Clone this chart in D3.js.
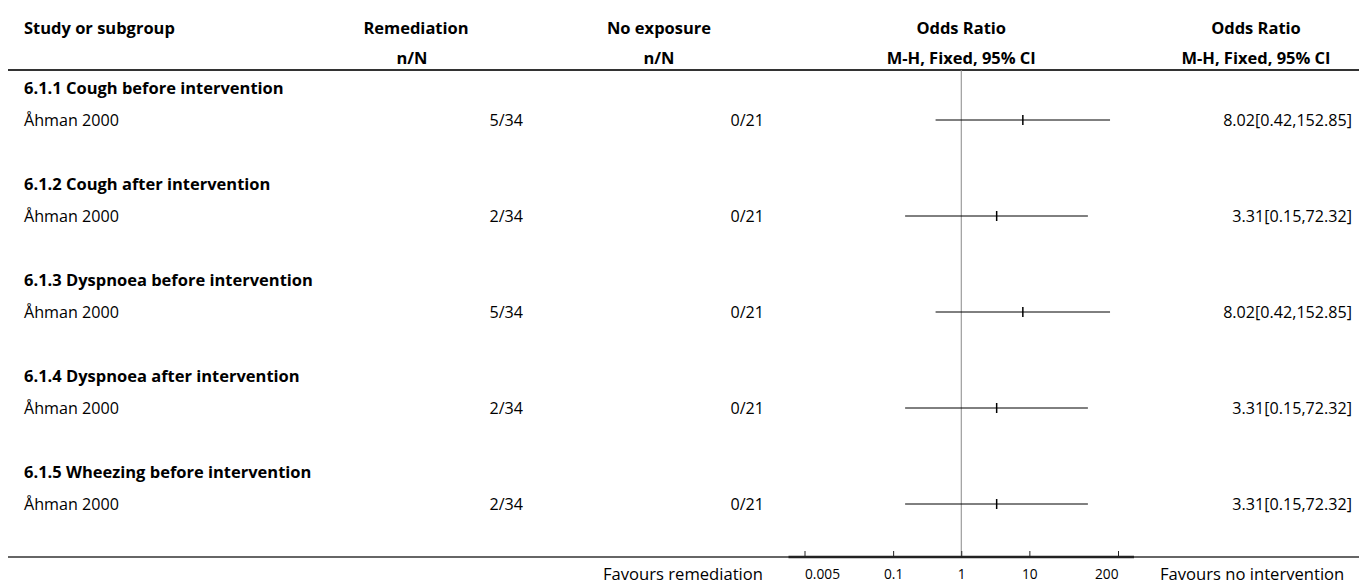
<!DOCTYPE html>
<html>
<head>
<meta charset="utf-8">
<script src="https://cdn.jsdelivr.net/npm/d3@7"></script>
<style>
  html, body { margin: 0; padding: 0; background: #fff; }
  svg { display: block; }
  text { font-family: "Open Sans", "Noto Sans", sans-serif; fill: #000; }
</style>
</head>
<body>
<svg id="chart" width="1359" height="586"></svg>
<script>
// ---- data ----
const subgroups = [
  "6.1.1 Cough before intervention",
  "6.1.2 Cough after intervention",
  "6.1.3 Dyspnoea before intervention",
  "6.1.4 Dyspnoea after intervention",
  "6.1.5 Wheezing before intervention"
];
const studies = ["Åhman 2000", "Åhman 2000", "Åhman 2000", "Åhman 2000", "Åhman 2000"];
const remediation = ["5/34", "2/34", "5/34", "2/34", "2/34"];
const noExposure = ["0/21", "0/21", "0/21", "0/21", "0/21"];
const orEst = [8.02, 3.31, 8.02, 3.31, 3.31];
const orLow = [0.42, 0.15, 0.42, 0.15, 0.15];
const orHigh = [152.85, 72.32, 152.85, 72.32, 72.32];
const tickValues = [0.005, 0.1, 1, 10, 200];
const tickLabels = ["0.005", "0.1", "1", "10", "200"];
const headers1 = ["Study or subgroup", "Remediation", "No exposure", "Odds Ratio", "Odds Ratio"];
const headers2 = ["", "n/N", "n/N", "M-H, Fixed, 95% CI", "M-H, Fixed, 95% CI"];
const favours = ["Favours remediation", "Favours no intervention"];

// ---- font sizing helper (fit sample text to reference width) ----
const svg = d3.select("#chart");
function fitSize(sample, weight, target) {
  const t = svg.append("text").attr("font-size", 100).attr("font-weight", weight).text(sample);
  const w = t.node().getComputedTextLength();
  t.remove();
  return 100 * target / w;
}
const boldSize = fitSize("Study or subgroup", "bold", 151);
const regSize = fitSize("Åhman 2000", "normal", 95);
const favSize = fitSize("Favours remediation", "normal", 160);
const tickSize = fitSize("0.005", "normal", 35);

// ---- layout ----
const W = 1359;
const headerLineY = 70, axisY = 557;
const rowY = d3.scaleLinear().domain([0, 1]).range([120, 216]);
const x = d3.scaleLog().domain([0.005, 200]).range([804.5, 1118]);

const fmtCI = i => `${orEst[i].toFixed(2)}[${orLow[i].toFixed(2)},${orHigh[i].toFixed(2)}]`;

// header
const hdrX = [24, 416, 659, x(1), 1256];
const hdrAnchor = ["start", "middle", "middle", "middle", "middle"];
headers1.forEach((h, i) => {
  svg.append("text").attr("x", hdrX[i]).attr("y", 28).attr("dy", "0.35em")
    .attr("text-anchor", hdrAnchor[i]).attr("font-weight", "bold").attr("font-size", boldSize).text(h);
});
headers2.forEach((h, i) => {
  if (!h) return;
  svg.append("text").attr("x", hdrX[i] - (i === 1 ? 4 : 0)).attr("y", 58).attr("dy", "0.35em")
    .attr("text-anchor", hdrAnchor[i]).attr("font-weight", "bold").attr("font-size", boldSize).text(h);
});
svg.append("line").attr("x1", 8).attr("x2", W).attr("y1", headerLineY).attr("y2", headerLineY)
  .attr("stroke", "#333").attr("stroke-width", 2);

// null line
svg.append("line").attr("x1", x(1)).attr("x2", x(1)).attr("y1", headerLineY).attr("y2", axisY)
  .attr("stroke", "#888").attr("stroke-width", 1);

// rows
subgroups.forEach((s, i) => {
  const y = rowY(i);
  svg.append("text").attr("x", 24).attr("y", y - 32).attr("dy", "0.35em")
    .attr("font-weight", "bold").attr("font-size", boldSize).text(s);
  svg.append("text").attr("x", 24).attr("y", y).attr("dy", "0.35em")
    .attr("font-size", regSize).text(studies[i]);
  svg.append("text").attr("x", 523).attr("y", y).attr("dy", "0.35em")
    .attr("text-anchor", "end").attr("font-size", regSize).text(remediation[i]);
  svg.append("text").attr("x", 764).attr("y", y).attr("dy", "0.35em")
    .attr("text-anchor", "end").attr("font-size", regSize).text(noExposure[i]);
  svg.append("text").attr("x", 1352).attr("y", y).attr("dy", "0.35em")
    .attr("text-anchor", "end").attr("font-size", regSize).text(fmtCI(i));
  svg.append("line").attr("x1", x(orLow[i])).attr("x2", x(orHigh[i])).attr("y1", y).attr("y2", y)
    .attr("stroke", "#000").attr("stroke-width", 1);
  svg.append("line").attr("x1", x(orEst[i])).attr("x2", x(orEst[i])).attr("y1", y - 5).attr("y2", y + 5)
    .attr("stroke", "#000").attr("stroke-width", 1.5);
});

// bottom line and axis
svg.append("line").attr("x1", 8).attr("x2", W).attr("y1", axisY).attr("y2", axisY)
  .attr("stroke", "#333").attr("stroke-width", 1.5);
svg.append("line").attr("x1", x.range()[0] - 16).attr("x2", x.range()[1] + 16)
  .attr("y1", axisY).attr("y2", axisY).attr("stroke", "#222").attr("stroke-width", 2.5);

const axis = d3.axisBottom(x).tickValues(tickValues)
  .tickFormat((d, i) => tickLabels[i]).tickSizeInner(-6).tickSizeOuter(0).tickPadding(12);
const g = svg.append("g").attr("transform", `translate(0,${axisY})`).call(axis);
g.select(".domain").remove();
g.selectAll(".tick line").attr("stroke", "#222");
g.selectAll(".tick text")
  .attr("font-family", "'Open Sans', sans-serif").attr("font-size", tickSize).attr("fill", "#000")
  .attr("text-anchor", (d, i, n) => i === 0 ? "start" : (i === n.length - 1 ? "end" : "middle"));

svg.append("text").attr("x", 763).attr("y", 580)
  .attr("text-anchor", "end").attr("font-size", favSize).text(favours[0]);
svg.append("text").attr("x", 1160).attr("y", 580)
  .attr("text-anchor", "start").attr("font-size", favSize).text(favours[1]);
</script>
</body>
</html>
